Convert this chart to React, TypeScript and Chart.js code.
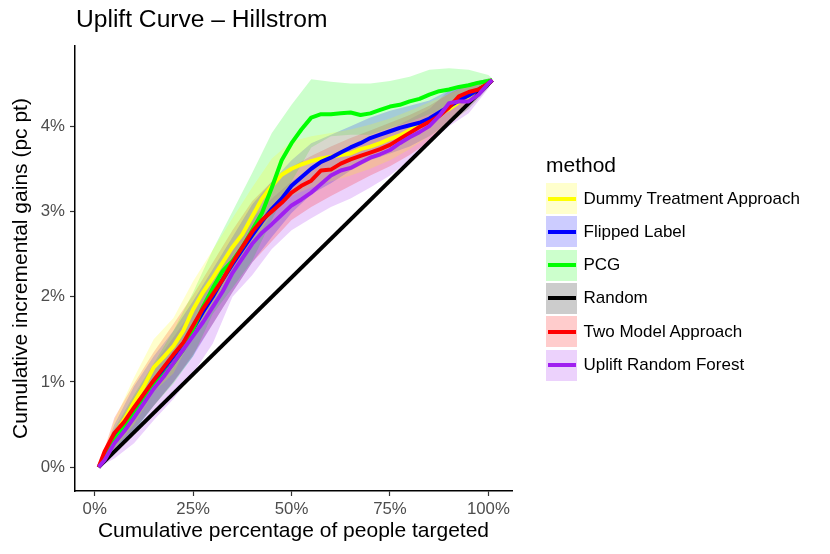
import { useEffect, useRef } from 'react'
import { Chart, registerables } from 'chart.js'
Chart.register(...registerables)

// cumulative % of people targeted (lines)
const xs = [1, 2.5, 5, 7.5, 10, 12.5, 15, 17.5, 20, 22.5, 25, 27.5, 30, 32.5, 35, 37.5, 40, 42.5, 45, 47.5, 50, 52.5, 55, 57.5, 60, 62.5, 65, 67.5, 70, 72.5, 75, 77.5, 80, 82.5, 85, 87.5, 90, 92.5, 95, 97.5, 100, 101]
// cumulative % of people targeted (confidence bands)
const bandX = [1, 5, 10, 15, 20, 25, 30, 35, 40, 45, 50, 55, 60, 65, 70, 75, 80, 85, 90, 95, 100, 101]

// Dummy Treatment Approach
const dummyMid = [0, 0.14, 0.38, 0.56, 0.76, 0.95, 1.17, 1.29, 1.42, 1.60, 1.85, 2.05, 2.22, 2.40, 2.58, 2.73, 2.94, 3.15, 3.30, 3.43, 3.50, 3.55, 3.59, 3.62, 3.64, 3.66, 3.68, 3.73, 3.76, 3.80, 3.85, 3.89, 3.95, 4.03, 4.09, 4.14, 4.20, 4.28, 4.35, 4.43, 4.51, 4.54]
const dummyHi = [0, 0.55, 1.05, 1.50, 1.75, 2.18, 2.55, 2.92, 3.28, 3.62, 3.82, 3.88, 3.92, 3.96, 4.02, 4.09, 4.18, 4.28, 4.38, 4.47, 4.56, 4.55]
const dummyLo = [0, 0.22, 0.50, 0.88, 1.10, 1.55, 1.90, 2.25, 2.60, 2.98, 3.18, 3.28, 3.35, 3.42, 3.50, 3.60, 3.73, 3.88, 4.02, 4.20, 4.45, 4.53]

// Flipped Label
const flipMid = [0, 0.12, 0.34, 0.50, 0.68, 0.85, 1.00, 1.15, 1.30, 1.45, 1.62, 1.82, 2.00, 2.20, 2.38, 2.55, 2.72, 2.88, 3.03, 3.15, 3.30, 3.40, 3.50, 3.58, 3.63, 3.69, 3.75, 3.80, 3.86, 3.90, 3.94, 3.98, 4.01, 4.04, 4.09, 4.16, 4.23, 4.30, 4.36, 4.43, 4.50, 4.54]
const flipHi = [0, 0.50, 0.95, 1.30, 1.60, 1.95, 2.32, 2.70, 3.08, 3.35, 3.60, 3.80, 3.90, 4.00, 4.10, 4.18, 4.24, 4.30, 4.42, 4.50, 4.56, 4.55]
const flipLo = [0, 0.20, 0.42, 0.72, 1.00, 1.30, 1.68, 2.05, 2.40, 2.70, 2.98, 3.20, 3.33, 3.48, 3.60, 3.68, 3.76, 3.88, 4.04, 4.20, 4.45, 4.53]

// PCG
const pcgMid = [0, 0.10, 0.32, 0.47, 0.62, 0.78, 0.95, 1.08, 1.22, 1.38, 1.62, 1.88, 2.10, 2.30, 2.42, 2.58, 2.78, 2.98, 3.28, 3.60, 3.80, 3.96, 4.10, 4.14, 4.14, 4.15, 4.16, 4.13, 4.15, 4.19, 4.23, 4.25, 4.29, 4.32, 4.37, 4.41, 4.43, 4.46, 4.48, 4.51, 4.53, 4.54]
const pcgHi = [0, 0.45, 0.85, 1.22, 1.60, 2.05, 2.55, 3.00, 3.45, 3.92, 4.25, 4.55, 4.52, 4.50, 4.50, 4.53, 4.58, 4.66, 4.68, 4.66, 4.60, 4.56]
const pcgLo = [0, 0.18, 0.42, 0.72, 0.98, 1.30, 1.80, 2.10, 2.42, 2.90, 3.35, 3.75, 3.88, 3.90, 3.90, 3.98, 4.05, 4.14, 4.22, 4.32, 4.48, 4.53]

// Random
const randX = [1, 101]
const randY = [0, 4.54]

// Two Model Approach
const twoMid = [0, 0.18, 0.40, 0.53, 0.70, 0.86, 1.02, 1.17, 1.32, 1.46, 1.66, 1.86, 2.03, 2.20, 2.40, 2.58, 2.76, 2.90, 3.00, 3.10, 3.22, 3.30, 3.36, 3.48, 3.49, 3.56, 3.61, 3.65, 3.69, 3.73, 3.78, 3.85, 3.92, 3.99, 4.05, 4.12, 4.22, 4.35, 4.40, 4.43, 4.50, 4.54]
const twoHi = [0, 0.58, 0.98, 1.35, 1.68, 2.02, 2.40, 2.78, 3.12, 3.35, 3.52, 3.65, 3.76, 3.86, 3.95, 4.04, 4.13, 4.24, 4.38, 4.50, 4.56, 4.55]
const twoLo = [0, 0.22, 0.44, 0.72, 1.00, 1.32, 1.68, 2.05, 2.40, 2.65, 2.90, 3.05, 3.18, 3.30, 3.42, 3.53, 3.66, 3.82, 4.04, 4.24, 4.46, 4.53]

// Uplift Random Forest
const urfMid = [0, 0.08, 0.28, 0.42, 0.58, 0.75, 0.92, 1.06, 1.22, 1.38, 1.54, 1.70, 1.88, 2.06, 2.28, 2.45, 2.62, 2.75, 2.85, 2.96, 3.07, 3.14, 3.22, 3.32, 3.42, 3.48, 3.51, 3.57, 3.63, 3.67, 3.72, 3.80, 3.87, 3.93, 4.00, 4.12, 4.27, 4.29, 4.29, 4.37, 4.50, 4.54]
const urfHi = [0, 0.42, 0.82, 1.20, 1.52, 1.85, 2.20, 2.60, 2.92, 3.15, 3.35, 3.50, 3.66, 3.76, 3.86, 3.96, 4.08, 4.20, 4.42, 4.45, 4.56, 4.55]
const urfLo = [0, 0.10, 0.28, 0.55, 0.80, 1.10, 1.45, 2.00, 2.25, 2.56, 2.78, 2.92, 3.05, 3.15, 3.28, 3.42, 3.60, 3.80, 4.00, 4.15, 4.44, 4.53]

const xTicks = [0, 25, 50, 75, 100]
const yTicks = [0, 1, 2, 3, 4]

const methods = ['Dummy Treatment Approach', 'Flipped Label', 'PCG', 'Random', 'Two Model Approach', 'Uplift Random Forest']
const lineColors = ['#FFFF00', '#0000FF', '#00FF00', '#000000', '#FF0000', '#A020F0']
const bandColors = ['rgba(255,255,0,.2)', 'rgba(0,0,255,.2)', 'rgba(0,255,0,.2)', 'rgba(0,0,0,.2)', 'rgba(255,0,0,.2)', 'rgba(160,32,240,.2)']

const FONT = "'Liberation Sans', Arial, Helvetica, sans-serif"

const pts = (ys: number[], xv: number[]) => ys.map((y, i) => ({ x: xv[i], y }))

export default function App() {
  const ref = useRef<HTMLCanvasElement>(null)

  useEffect(() => {
    if (!ref.current) return
    const bandSeries = [
      { hi: dummyHi, lo: dummyLo, c: 0 },
      { hi: flipHi, lo: flipLo, c: 1 },
      { hi: pcgHi, lo: pcgLo, c: 2 },
      { hi: twoHi, lo: twoLo, c: 4 },
      { hi: urfHi, lo: urfLo, c: 5 },
    ]
    const bands: any[] = []
    bandSeries.forEach(s => {
      bands.push({ data: pts(s.hi, bandX), borderWidth: 0, pointRadius: 0, backgroundColor: bandColors[s.c], fill: '+1', order: 20 })
      bands.push({ data: pts(s.lo, bandX), borderWidth: 0, pointRadius: 0, fill: false, order: 20 })
    })
    // ggplot draws groups in legend order, so the last method ends up on top
    const line = (data: any[], c: number) => ({
      data, borderColor: lineColors[c], borderWidth: 4, pointRadius: 0, fill: false,
      borderJoinStyle: 'round', order: 6 - c,
    })
    const chart = new Chart(ref.current, {
      type: 'line',
      data: {
        datasets: [
          ...bands,
          line(pts(dummyMid, xs), 0),
          line(pts(flipMid, xs), 1),
          line(pts(pcgMid, xs), 2),
          line(pts(randY, randX), 3),
          line(pts(twoMid, xs), 4),
          line(pts(urfMid, xs), 5),
        ],
      },
      options: {
        responsive: false, animation: false,
        layout: { padding: { top: 46, right: 318, bottom: 0, left: 0 } },
        plugins: {
          legend: { display: false }, tooltip: { enabled: false },
          filler: { drawTime: 'beforeDatasetsDraw' },
        },
        scales: {
          x: {
            type: 'linear', min: -5, max: 106,
            afterBuildTicks: (s: any) => { s.ticks = xTicks.map(v => ({ value: v })) },
            afterFit: (s: any) => { s.height = 63 },
            grid: { display: true, drawOnChartArea: false, drawTicks: true, tickLength: 5, tickColor: '#333', tickWidth: 1.2 },
            border: { display: true, color: '#000', width: 1.5 },
            ticks: { callback: v => v + '%', color: '#4D4D4D', font: { size: 16.8, family: FONT }, padding: 3, maxRotation: 0 },
            title: { display: true, text: 'Cumulative percentage of people targeted', color: '#000', font: { size: 21, family: FONT }, padding: { top: 0, bottom: 10 } },
          },
          y: {
            type: 'linear', min: -0.28, max: 4.94,
            afterBuildTicks: (s: any) => { s.ticks = yTicks.map(v => ({ value: v })) },
            afterFit: (s: any) => { s.width = 75 },
            grid: { display: true, drawOnChartArea: false, drawTicks: true, tickLength: 5, tickColor: '#333', tickWidth: 1.2 },
            border: { display: true, color: '#000', width: 1.5 },
            ticks: { callback: v => v + '%', color: '#4D4D4D', font: { size: 16.8, family: FONT }, padding: 5 },
            title: { display: true, text: 'Cumulative incremental gains (pc pt)', color: '#000', font: { size: 21, family: FONT }, padding: { top: 9, bottom: 0 } },
          },
        },
      },
    })
    return () => chart.destroy()
  }, [])

  return (
    <div style={{ position: 'fixed', left: 0, top: 0, width: 830, height: 554, background: '#fff', fontFamily: FONT }}>
      <canvas ref={ref} width={830} height={554} style={{ position: 'absolute', left: 0, top: 0 }} />
      <div style={{ position: 'absolute', left: 76, top: 4, fontSize: 24.6, lineHeight: '30px', color: '#000', whiteSpace: 'nowrap' }}>Uplift Curve – Hillstrom</div>
      <div style={{ position: 'absolute', left: 546, top: 151, fontSize: 21, lineHeight: '28px', color: '#000' }}>method</div>
      {methods.map((m, i) => (
        <div key={m} style={{ position: 'absolute', left: 546, top: 183 + i * 33.3, height: 31, display: 'flex', alignItems: 'center' }}>
          <div style={{ width: 31, height: 31, background: bandColors[i], position: 'relative' }}>
            <div style={{ position: 'absolute', left: 2, right: 1, top: 13.5, height: 4, background: lineColors[i] }} />
          </div>
          <div style={{ marginLeft: 6.5, fontSize: 17, color: '#000', whiteSpace: 'nowrap' }}>{m}</div>
        </div>
      ))}
    </div>
  )
}
